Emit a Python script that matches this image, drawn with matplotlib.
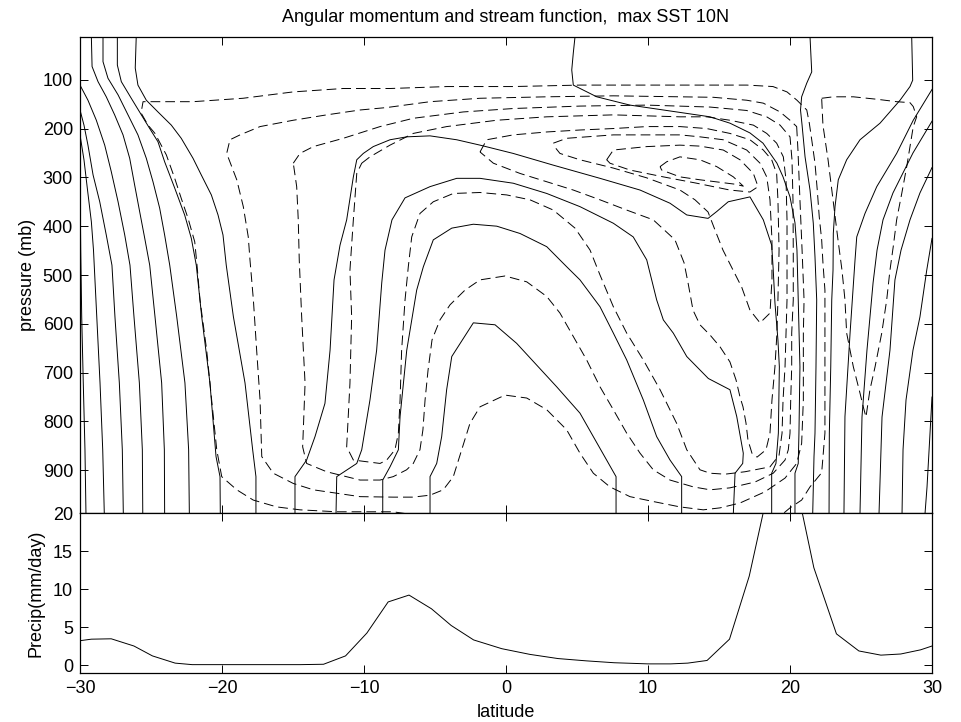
import matplotlib
matplotlib.use("Agg")
import matplotlib.pyplot as plt

plt.rcParams['font.family'] = ['Liberation Sans', 'DejaVu Sans']
plt.rcParams['font.size'] = 13
plt.rcParams['lines.scale_dashes'] = False

# ---- angular momentum contours (solid), (latitude, pressure mb) ----
am_1 = [(-30.0, 300), (-29.95, 449), (-29.88, 585), (-29.77, 721), (-29.65, 858), (-29.58, 988)]
am_2 = [(-30.0, 213), (-29.72, 264), (-29.47, 326), (-29.2, 391), (-29.05, 449), (-28.82, 585),
        (-28.59, 721), (-28.4, 858), (-28.29, 988)]
am_3 = [(-30.0, 162), (-29.72, 193), (-29.44, 234), (-29.08, 295), (-28.61, 350), (-28.15, 418),
        (-27.75, 480), (-27.54, 585), (-27.23, 721), (-27.02, 858), (-26.95, 988)]
am_4 = [(-30.0, 111), (-29.44, 142), (-28.85, 183), (-28.26, 234), (-27.8, 288), (-27.32, 350),
        (-26.85, 418), (-26.48, 480), (-26.2, 585), (-25.82, 721), (-25.61, 858), (-25.58, 988)]
am_5 = [(-29.2, 12), (-29.15, 73), (-28.73, 104), (-28.15, 135), (-27.56, 172), (-26.97, 213),
        (-26.5, 261), (-26.15, 316), (-25.8, 370), (-25.44, 425), (-25.09, 480), (-24.72, 585),
        (-24.25, 721), (-24.06, 858), (-24.04, 988)]
am_6 = [(-28.38, 12), (-28.38, 63), (-28.03, 97), (-27.32, 131), (-26.62, 172), (-25.92, 213),
        (-25.33, 261), (-24.86, 309), (-24.39, 363), (-24.04, 418), (-23.68, 480), (-23.19, 585),
        (-22.61, 721), (-22.35, 858), (-22.3, 988)]
am_7 = [(-27.37, 12), (-27.37, 70), (-27.09, 104), (-26.39, 138), (-25.68, 172), (-25.09, 200),
        (-24.51, 227), (-24.04, 268), (-23.33, 322), (-22.63, 377), (-22.16, 425), (-21.81, 480),
        (-21.43, 585), (-20.85, 721), (-20.42, 872), (-20.14, 913), (-20.12, 988)]
am_8 = [(-26.04, 12), (-26.11, 76), (-25.92, 111), (-25.33, 142), (-24.51, 166), (-23.57, 193),
        (-22.87, 220), (-22.04, 261), (-21.46, 295), (-20.75, 336), (-20.28, 377), (-19.93, 418),
        (-19.7, 480), (-19.2, 585), (-18.38, 721), (-17.84, 858), (-17.61, 913), (-17.61, 988)]
am_9 = [(-14.86, 988), (-14.86, 913), (-14.04, 879), (-13.45, 831), (-12.75, 763), (-12.39, 654),
        (-12.11, 510), (-11.69, 439), (-11.22, 387), (-10.75, 299), (-10.51, 264), (-10.05, 251),
        (-9.35, 237), (-8.17, 223), (-6.99, 217), (-5.35, 215), (-3.47, 223), (-1.83, 234),
        (0.51, 251), (3.33, 275), (6.62, 302), (9.44, 326), (11.55, 353), (12.73, 377),
        (14.23, 384), (14.84, 370), (15.65, 350), (17.18, 340), (18.12, 387), (18.71, 439),
        (18.82, 490), (18.94, 557), (19.15, 633), (19.25, 688), (19.18, 824), (19.01, 886),
        (18.71, 906), (18.71, 988)]
am_10 = [(-11.97, 988), (-11.92, 913), (-10.51, 886), (-10.16, 858), (-9.58, 756), (-9.11, 654),
         (-8.75, 516), (-8.52, 449), (-8.03, 387), (-7.11, 342), (-5.35, 319), (-3.47, 302),
         (-1.83, 302), (0.51, 312), (2.87, 333), (5.21, 360), (7.56, 394), (8.96, 422),
         (9.91, 469), (10.61, 551), (11.08, 592), (11.78, 619), (12.73, 667), (14.25, 712),
         (15.77, 735), (16.25, 790), (16.71, 865), (16.67, 886), (16.13, 906), (16.01, 988)]
am_11 = [(-8.68, 988), (-8.68, 920), (-8.17, 893), (-7.58, 858), (-7.46, 790), (-6.99, 654),
         (-6.29, 531), (-5.82, 483), (-5.12, 428), (-3.82, 404), (-2.3, 396), (-0.65, 400),
         (0.99, 415), (2.87, 442), (4.27, 483), (5.21, 510), (6.62, 565), (7.56, 619),
         (8.5, 674), (9.67, 756), (10.61, 831), (11.55, 879), (12.37, 913), (12.37, 988)]
am_12 = [(-5.35, 988), (-5.35, 913), (-4.88, 886), (-4.53, 831), (-4.18, 735), (-3.82, 667),
         (-2.3, 598), (-0.77, 602), (0.75, 640), (3.57, 729), (5.21, 783), (7.75, 913), (7.75, 988)]
am_13 = [(4.86, 12), (4.74, 45), (4.63, 80), (4.74, 111), (6.39, 135), (8.73, 152), (11.08, 162),
         (14.37, 176), (15.77, 189), (17.18, 209), (18.1, 230), (19.08, 271), (19.51, 299),
         (20.0, 340), (20.35, 393), (20.49, 449), (20.58, 551), (20.7, 688), (20.63, 824),
         (20.58, 886), (20.35, 906), (20.35, 988)]
am_14 = [(21.41, 12), (21.53, 84), (21.18, 107), (20.82, 135), (20.74, 162), (20.85, 193),
         (21.06, 258), (21.41, 326), (21.64, 394), (21.76, 463), (21.88, 551), (21.83, 688),
         (21.76, 824), (21.69, 872), (21.6, 988)]
am_15 = [(28.57, 12), (28.64, 101), (28.45, 114), (27.75, 142), (26.34, 189), (24.93, 223),
         (23.99, 264), (23.4, 305), (23.17, 360), (23.05, 415), (23.03, 490), (22.94, 551),
         (22.87, 688), (22.77, 824), (22.75, 988)]
am_16 = [(30.0, 120), (28.68, 183), (27.51, 251), (26.11, 319), (25.28, 374), (24.7, 422),
         (24.58, 469), (24.23, 619), (23.87, 790), (23.8, 988)]
am_17 = [(30.0, 185), (28.66, 250), (27.25, 332), (26.55, 387), (26.13, 449), (25.85, 516),
         (25.42, 654), (25.07, 791), (24.93, 988)]
am_18 = [(30.0, 280), (29.15, 332), (28.45, 387), (27.82, 449), (27.39, 510), (27.04, 654),
         (26.48, 791), (26.27, 988)]
am_19 = [(30.0, 425), (29.63, 490), (29.15, 586), (28.66, 654), (28.17, 756), (27.96, 858),
         (27.89, 988)]
am_20 = [(30.0, 750), (29.86, 824), (29.65, 934), (29.51, 988)]

# ---- stream function contours (dashed) ----
psi_1 = [(-6.06, 993), (-7.96, 985), (-10.28, 985), (-11.92, 985), (-14.51, 981), (-16.15, 975),
         (-17.8, 961), (-18.96, 940), (-20.02, 913), (-20.37, 858), (-20.73, 756), (-21.08, 654),
         (-21.55, 551), (-21.76, 480), (-21.92, 432), (-22.39, 384), (-22.87, 343), (-23.33, 302),
         (-23.92, 254), (-24.72, 210), (-25.21, 193), (-25.7, 168), (-25.56, 145), (-22.04, 145),
         (-18.52, 138), (-15.0, 125), (-11.48, 118), (-8.17, 118), (-4.15, 114), (0.49, 114),
         (5.21, 111), (9.93, 111), (14.58, 111), (16.97, 111), (18.8, 114), (19.79, 125),
         (20.49, 142), (21.18, 162), (21.36, 189), (21.53, 223), (21.76, 271), (21.92, 326),
         (22.06, 381), (22.23, 428), (22.32, 475), (22.46, 531), (22.46, 688), (22.46, 824),
         (22.23, 905), (21.41, 934), (20.82, 961), (20.0, 977), (19.3, 994)]
psi_2 = [(20.47, 196), (20.56, 244), (20.7, 346), (20.85, 449), (20.99, 551), (20.94, 619),
         (20.94, 756), (20.82, 845), (20.47, 886), (19.65, 916), (18.24, 944), (16.48, 967),
         (15.07, 977), (13.89, 981), (12.25, 975), (10.37, 964), (8.73, 954), (7.32, 934),
         (6.15, 906), (5.21, 865), (4.27, 817), (2.87, 776), (1.46, 752), (-0.07, 746),
         (-1.83, 770), (-2.54, 804), (-3.12, 858), (-3.71, 913), (-4.42, 940), (-5.35, 951),
         (-6.55, 955), (-7.94, 955), (-10.28, 954), (-11.92, 947), (-13.57, 940), (-14.98, 927),
         (-16.39, 906), (-17.2, 872), (-17.32, 756), (-17.56, 654), (-17.79, 551), (-18.03, 469),
         (-18.15, 422), (-18.5, 360), (-18.96, 305), (-19.67, 251), (-19.44, 223), (-18.73, 213),
         (-17.32, 196), (-14.98, 183), (-12.63, 172), (-10.28, 162), (-8.4, 157), (-5.35, 145),
         (-1.83, 138), (2.87, 135), (7.56, 133), (12.25, 135), (14.6, 136), (16.95, 142),
         (18.12, 148), (19.3, 166), (20.0, 183), (20.47, 196)]
psi_3 = [(-14.98, 271), (-14.51, 251), (-13.57, 237), (-11.46, 220), (-8.87, 196), (-6.53, 179),
         (-3.01, 166), (0.51, 159), (5.21, 154), (9.91, 152), (14.37, 156), (16.95, 163),
         (18.36, 176), (19.3, 193), (20.0, 217), (20.14, 264), (20.21, 346), (20.23, 449),
         (20.23, 551), (20.12, 619), (20.12, 688), (20.05, 756), (20.0, 824), (19.88, 858),
         (19.65, 879), (18.82, 906), (17.54, 924), (15.77, 936), (14.37, 940), (13.19, 934),
         (11.55, 920), (10.37, 899), (9.44, 865), (8.5, 824), (7.56, 776), (6.62, 729),
         (5.68, 674), (4.74, 626), (3.8, 578), (2.87, 544), (1.46, 514), (-0.07, 502),
         (-1.83, 510), (-2.89, 531), (-3.94, 561), (-4.65, 592), (-5.21, 633), (-5.49, 695),
         (-5.7, 756), (-5.85, 817), (-6.06, 858), (-6.53, 886), (-7.0, 899), (-7.94, 913),
         (-8.87, 920), (-10.28, 920), (-12.63, 903), (-14.04, 886), (-14.32, 852), (-14.15, 722),
         (-14.39, 585), (-14.56, 469), (-14.63, 387), (-14.74, 319), (-14.98, 271)]
psi_4 = [(-10.16, 271), (-9.58, 258), (-8.17, 234), (-6.53, 210), (-4.18, 196), (-0.65, 183),
         (2.87, 176), (7.56, 172), (12.25, 176), (14.13, 176), (15.77, 183), (17.42, 193),
         (18.36, 210), (19.06, 230), (19.53, 258), (19.72, 305), (19.79, 387), (19.79, 469),
         (19.79, 551), (19.72, 619), (19.65, 688), (19.51, 756), (19.44, 824), (19.23, 869),
         (18.59, 893), (16.83, 903), (15.42, 908), (14.37, 906), (13.66, 899), (12.73, 858),
         (12.02, 804), (10.85, 735), (9.67, 674), (8.5, 619), (7.56, 565), (6.62, 500),
         (5.92, 449), (4.86, 404), (3.33, 367), (1.69, 346), (0.05, 336), (-1.83, 331),
         (-3.71, 333), (-5.12, 350), (-6.06, 374), (-6.64, 422), (-6.88, 483), (-7.11, 551),
         (-7.35, 654), (-7.46, 756), (-7.58, 824), (-7.82, 858), (-8.4, 879), (-8.87, 886),
         (-10.75, 879), (-11.22, 852), (-10.99, 722), (-10.87, 585), (-10.99, 490), (-10.75, 387),
         (-10.51, 292), (-10.16, 271)]
psi_5 = [(-1.83, 248), (-1.36, 223), (0.51, 213), (2.87, 207), (5.21, 203), (7.56, 200),
         (9.91, 196), (12.25, 196), (14.13, 200), (15.77, 210), (17.18, 223), (18.12, 244),
         (18.71, 264), (19.06, 292), (19.15, 346), (19.23, 449), (19.15, 551), (19.08, 619),
         (18.94, 688), (18.73, 756), (18.59, 824), (18.31, 858), (17.68, 873), (17.32, 865),
         (17.04, 838), (16.9, 803), (16.69, 770), (16.48, 750), (16.2, 715), (15.77, 678),
         (15.07, 647), (14.37, 623), (13.66, 602), (13.17, 572), (12.82, 516), (12.54, 475),
         (11.9, 428), (10.37, 387), (8.5, 367), (6.62, 346), (4.74, 326), (2.87, 309),
         (0.99, 292), (-0.89, 271), (-1.83, 248)]
psi_6 = [(3.33, 230), (4.27, 220), (7.56, 213), (12.25, 213), (13.66, 217), (15.3, 223),
         (16.95, 244), (17.89, 271), (18.36, 299), (18.59, 346), (18.73, 428), (18.73, 510),
         (18.59, 578), (17.89, 598), (17.18, 572), (16.6, 525), (15.99, 490), (15.28, 449),
         (14.72, 408), (14.23, 371), (13.31, 346), (12.25, 326), (9.91, 301), (7.56, 281),
         (5.21, 264), (3.8, 251), (3.33, 234)]
psi_7 = [(7.09, 264), (7.56, 244), (9.91, 237), (12.25, 234), (13.66, 236), (15.3, 244),
         (16.48, 264), (17.42, 292), (17.75, 319), (17.18, 330), (15.77, 326), (13.43, 312),
         (11.08, 299), (8.73, 285), (7.32, 271), (7.09, 264)]
psi_8 = [(10.85, 278), (11.32, 268), (12.25, 258), (13.66, 264), (14.84, 278), (16.01, 299),
         (16.71, 318), (16.13, 314), (13.66, 305), (12.25, 299), (10.96, 285), (10.85, 278)]
psi_9 = [(22.23, 138), (23.05, 135), (24.46, 135), (26.11, 140), (27.51, 145), (28.45, 147),
         (28.68, 155), (28.92, 176), (28.68, 196), (28.45, 237), (28.22, 278), (27.87, 333),
         (27.51, 387), (27.27, 442), (27.04, 490), (26.81, 551), (26.46, 619), (25.99, 688),
         (25.63, 735), (25.35, 791), (25.16, 770), (24.93, 742), (24.46, 688), (23.99, 619),
         (23.87, 551), (23.66, 490), (23.38, 428), (23.03, 346), (22.68, 264), (22.32, 193),
         (22.23, 138)]

# ---- precipitation ----
lat_precip = [-30, -29.2, -27.8, -26.2, -24.9, -23.3, -22.1, -20.1, -17.0, -14.5, -12.85, -11.3,
              -9.8, -8.3, -6.83, -5.25, -3.86, -2.28, -0.3, 1.68, 3.66, 5.64, 7.62, 10.0, 11.6,
              12.8, 14.16, 15.74, 17.13, 18.7, 20.3, 21.68, 23.27, 24.85, 26.4, 27.8, 29.2, 30]
precip = [3.2, 3.4, 3.45, 2.5, 1.2, 0.25, 0.05, 0.05, 0.05, 0.05, 0.1, 1.2, 4.2, 8.3, 9.2, 7.4,
          5.2, 3.3, 2.15, 1.4, 0.85, 0.55, 0.3, 0.15, 0.15, 0.25, 0.6, 3.4, 11.7, 25, 25, 12.8,
          4.1, 1.85, 1.3, 1.45, 2.0, 2.5]

am_lines = [am_1, am_2, am_3, am_4, am_5, am_6, am_7, am_8, am_9, am_10, am_11, am_12, am_13,
            am_14, am_15, am_16, am_17, am_18, am_19, am_20]
psi_lines = [psi_1, psi_2, psi_3, psi_4, psi_5, psi_6, psi_7, psi_8, psi_9]

fig = plt.figure(figsize=(9.61, 7.22), dpi=100)
ax1 = fig.add_axes([80 / 961, 209 / 722, 852 / 961, 476 / 722])
ax2 = fig.add_axes([80 / 961, 49 / 722, 852 / 961, 160 / 722])

for line in am_lines:
    x, y = zip(*line)
    ax1.plot(x, y, color='black', lw=0.7)
for line in psi_lines:
    x, y = zip(*line)
    ax1.plot(x, y, color='black', lw=0.7, linestyle=(0, (7, 3.6)))

ax1.set_xlim(-30, 30)
ax1.set_ylim(987.5, 12.5)
ax1.set_yticks(range(100, 1000, 100))
ax1.set_xticks(range(-30, 31, 10))
ax1.set_xticklabels([])
ax1.set_ylabel('pressure (mb)', labelpad=5)
ax1.set_title('Angular momentum and stream function,  max SST 10N', fontsize=13, pad=11)

ax2.plot(lat_precip, precip, color='black', lw=0.7)
ax2.set_xlim(-30, 30)
ax2.set_ylim(-1.05, 20)
ax2.set_yticks([0, 5, 10, 15, 20])
ax2.set_xticks(range(-30, 31, 10))
ax2.set_ylabel('Precip(mm/day)', labelpad=6)
ax2.set_xlabel('latitude', labelpad=5)

for ax in (ax1, ax2):
    ax.tick_params(direction='in', length=6, width=0.7, top=True, right=True, pad=5,
                   labelsize=13)
    for s in ax.spines.values():
        s.set_linewidth(0.9)

fig.savefig('out.png', dpi=100)
